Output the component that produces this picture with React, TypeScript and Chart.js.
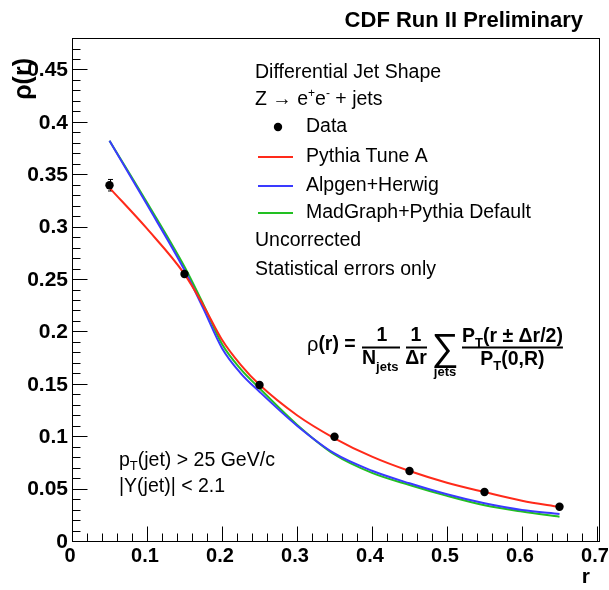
import React, { useEffect, useRef } from "react";
import { Chart, registerables } from "chart.js";

Chart.register(...registerables);

// ---------- data ----------
const rValues = [0.05, 0.15, 0.25, 0.35, 0.45, 0.55, 0.65];
const dataRho = [0.3405, 0.2557, 0.1498, 0.1005, 0.0677, 0.0477, 0.0337];
const dataErr = [0.0055, 0.002, 0.0012, 0.0008, 0.0006, 0.0005, 0.0004];

const curveR = [0.05, 0.1, 0.15, 0.175, 0.2, 0.225, 0.25, 0.3, 0.35, 0.4, 0.45, 0.5, 0.55, 0.6, 0.65];
const pythiaTuneA = [0.338, 0.299, 0.2557, 0.226, 0.193, 0.169, 0.15, 0.121, 0.099, 0.0814, 0.0677, 0.0566, 0.0477, 0.0394, 0.0334];
const alpgenHerwig = [0.383, 0.322, 0.2595, 0.223, 0.185, 0.161, 0.1434, 0.111, 0.0845, 0.068, 0.056, 0.0455, 0.0369, 0.0305, 0.0267];
const madgraphPythia = [0.383, 0.324, 0.2627, 0.227, 0.189, 0.165, 0.1467, 0.112, 0.0835, 0.066, 0.0544, 0.044, 0.035, 0.029, 0.0242];

const xTickValues = [0, 0.1, 0.2, 0.3, 0.4, 0.5, 0.6, 0.7];
const yTickValues = [0, 0.05, 0.1, 0.15, 0.2, 0.25, 0.3, 0.35, 0.4, 0.45];

const xMin = 0;
const xMax = 0.704;
const yMin = 0;
const yMax = 0.481;

const RED = "#ff2a1a";
const BLUE = "#3a3aff";
const GREEN = "#22c022";
const FAM = '"Liberation Sans", Arial, Helvetica, sans-serif';

type Seg = { t: string; f: string; dy?: number };

function drawSegs(ctx: CanvasRenderingContext2D, x: number, y: number, segs: Seg[]) {
  let cx = x;
  for (const s of segs) {
    ctx.font = s.f;
    ctx.fillText(s.t, cx, y + (s.dy || 0));
    cx += ctx.measureText(s.t).width;
  }
  return cx;
}
function segsWidth(ctx: CanvasRenderingContext2D, segs: Seg[]) {
  let w = 0;
  for (const s of segs) {
    ctx.font = s.f;
    w += ctx.measureText(s.t).width;
  }
  return w;
}

const toXY = (xs: number[], ys: number[]) => xs.map((x, i) => ({ x, y: ys[i] }));

const errorBarPlugin = {
  id: "errorBars",
  beforeDatasetsDraw(chart: any) {
    const ctx = chart.ctx as CanvasRenderingContext2D;
    const xs = chart.scales.x;
    const ys = chart.scales.y;
    ctx.save();
    ctx.strokeStyle = "#000";
    ctx.lineWidth = 1;
    rValues.forEach((r, i) => {
      const px = Math.round(xs.getPixelForValue(r)) + 0.5;
      const y1 = ys.getPixelForValue(dataRho[i] - dataErr[i]);
      const y2 = ys.getPixelForValue(dataRho[i] + dataErr[i]);
      ctx.beginPath();
      ctx.moveTo(px, y1);
      ctx.lineTo(px, y2);
      ctx.moveTo(px - 2.5, y1);
      ctx.lineTo(px + 2.5, y1);
      ctx.moveTo(px - 2.5, y2);
      ctx.lineTo(px + 2.5, y2);
      ctx.stroke();
    });
    ctx.restore();
  },
};

const decorPlugin = {
  id: "decor",
  afterDraw(chart: any) {
    const ctx = chart.ctx as CanvasRenderingContext2D;
    const xs = chart.scales.x;
    const ys = chart.scales.y;
    const a = chart.chartArea;
    ctx.save();
    // frame
    ctx.strokeStyle = "#000";
    ctx.lineWidth = 1;
    const L = Math.round(a.left) + 0.5;
    const R = Math.round(a.right) - 0.5;
    const T = Math.round(a.top) + 0.5;
    const B = Math.round(a.bottom) - 0.5;
    ctx.strokeRect(L, T, R - L, B - T);
    // y ticks (inside)
    ctx.beginPath();
    for (let i = 0; i <= 48; i++) {
      const v = i / 100;
      if (v > yMax) break;
      const py = Math.round(ys.getPixelForValue(v)) - 0.5;
      const len = i % 5 === 0 ? 15 : 8;
      ctx.moveTo(L, py);
      ctx.lineTo(L + len, py);
    }
    // x ticks (inside)
    for (let i = 0; i <= 35; i++) {
      const v = i * 0.02;
      const px = Math.round(xs.getPixelForValue(v)) + 0.5;
      const len = i % 5 === 0 ? 15 : 8;
      ctx.moveTo(px, B);
      ctx.lineTo(px, B - len);
    }
    ctx.stroke();

    ctx.fillStyle = "#000";

    // header
    ctx.textAlign = "right";
    ctx.textBaseline = "alphabetic";
    ctx.font = `bold 22px ${FAM}`;
    ctx.fillText("CDF Run II Preliminary", 583, 27);

    // axis titles
    ctx.font = `bold 21px ${FAM}`;
    ctx.textBaseline = "middle";
    ctx.fillText("r", 590, 577);
    ctx.save();
    ctx.translate(24, 58);
    ctx.rotate(-Math.PI / 2);
    ctx.textAlign = "right";
    ctx.font = `bold 25px ${FAM}`;
    ctx.fillText("ρ(r)", 0, 0);
    ctx.restore();

    // legend block
    ctx.textAlign = "left";
    ctx.textBaseline = "middle";
    const LF = `19.5px ${FAM}`;
    const SF = `12px ${FAM}`;
    ctx.font = LF;
    ctx.fillText("Differential Jet Shape", 255, 73);
    drawSegs(ctx, 255, 100, [
      { t: "Z → e", f: LF },
      { t: "+", f: SF, dy: -6 },
      { t: "e", f: LF },
      { t: "-", f: SF, dy: -6 },
      { t: " + jets", f: LF },
    ]);
    ctx.beginPath();
    ctx.arc(278, 127, 4.2, 0, Math.PI * 2);
    ctx.fill();
    ctx.font = LF;
    ctx.fillText("Data", 306, 127);
    const entries: [string, string, number][] = [
      ["Pythia Tune A", RED, 157],
      ["Alpgen+Herwig", BLUE, 186],
      ["MadGraph+Pythia Default", GREEN, 213],
    ];
    for (const [label, col, y] of entries) {
      ctx.strokeStyle = col;
      ctx.lineWidth = 2;
      ctx.beginPath();
      ctx.moveTo(258, y);
      ctx.lineTo(293, y);
      ctx.stroke();
      ctx.fillText(label, 306, y);
    }
    ctx.fillText("Uncorrected", 255, 241);
    ctx.fillText("Statistical errors only", 255, 270);

    // cuts
    drawSegs(ctx, 119, 461, [
      { t: "p", f: LF },
      { t: "T", f: `13px ${FAM}`, dy: 5 },
      { t: "(jet) > 25 GeV/c", f: LF },
    ]);
    ctx.font = LF;
    ctx.fillText("|Y(jet)| < 2.1", 119, 487);

    // formula
    const BF = `bold 19.5px ${FAM}`;
    const BS = `bold 13px ${FAM}`;
    ctx.strokeStyle = "#000";
    ctx.lineWidth = 2;
    drawSegs(ctx, 307, 345, [
      { t: "ρ", f: `20px ${FAM}` },
      { t: "(r) =", f: BF },
    ]);
    // 1/N_jets
    ctx.textAlign = "center";
    ctx.font = BF;
    ctx.fillText("1", 382, 336);
    ctx.beginPath();
    ctx.moveTo(362, 347.5);
    ctx.lineTo(400, 347.5);
    ctx.stroke();
    ctx.textAlign = "left";
    drawSegs(ctx, 362, 359, [
      { t: "N", f: BF },
      { t: "jets", f: BS, dy: 8 },
    ]);
    // 1/Δr
    ctx.textAlign = "center";
    ctx.font = BF;
    ctx.fillText("1", 416, 336);
    ctx.beginPath();
    ctx.moveTo(406, 347.5);
    ctx.lineTo(427, 347.5);
    ctx.stroke();
    ctx.fillText("Δr", 416, 359);
    // sum
    ctx.font = `38px ${FAM}`;
    ctx.fillText("∑", 445, 350);
    ctx.font = BS;
    ctx.fillText("jets", 445, 372);
    // big fraction
    ctx.textAlign = "left";
    const num: Seg[] = [
      { t: "P", f: BF },
      { t: "T", f: BS, dy: 6 },
      { t: "(r ± Δr/2)", f: BF },
    ];
    const den: Seg[] = [
      { t: "P", f: BF },
      { t: "T", f: BS, dy: 6 },
      { t: "(0,R)", f: BF },
    ];
    const nw = segsWidth(ctx, num);
    const dw = segsWidth(ctx, den);
    const fx = 462;
    drawSegs(ctx, fx, 337, num);
    ctx.beginPath();
    ctx.moveTo(fx, 347.5);
    ctx.lineTo(fx + nw, 347.5);
    ctx.stroke();
    drawSegs(ctx, fx + nw / 2 - dw / 2, 360, den);

    ctx.restore();
  },
};

export default function App() {
  const ref = useRef<HTMLCanvasElement | null>(null);
  useEffect(() => {
    if (!ref.current) return;
    const curve = (label: string, ys: number[], color: string) => ({
      label,
      data: toXY(curveR, ys),
      showLine: true,
      borderColor: color,
      borderWidth: 2,
      pointRadius: 0,
      cubicInterpolationMode: "monotone",
      fill: false,
    });
    const chart = new Chart(ref.current, {
      type: "scatter",
      data: {
        datasets: [
          {
            label: "Data",
            data: toXY(rValues, dataRho),
            showLine: false,
            pointRadius: 4.2,
            pointBackgroundColor: "#000",
            pointBorderColor: "#000",
            pointBorderWidth: 0,
          },
          curve("Pythia Tune A", pythiaTuneA, RED),
          curve("Alpgen+Herwig", alpgenHerwig, BLUE),
          curve("MadGraph+Pythia Default", madgraphPythia, GREEN),
        ],
      },
      options: {
        responsive: false,
        animation: false,
        devicePixelRatio: 1,
        layout: { padding: { top: 38, right: 9, left: 0, bottom: 0 } },
        plugins: { legend: { display: false }, tooltip: { enabled: false } },
        scales: {
          x: {
            type: "linear",
            min: xMin,
            max: xMax,
            grid: { display: false, drawTicks: false, tickLength: 0 },
            border: { display: false },
            afterBuildTicks: (s: any) => {
              s.ticks = xTickValues.map((v) => ({ value: v }));
            },
            ticks: {
              color: "#000",
              padding: 2,
              maxRotation: 0,
              autoSkip: false,
              labelOffset: -2,
              font: { family: FAM, size: 20, weight: "bold" },
              callback: (v: any) => String(+Number(v).toFixed(2)),
            },
            afterFit: (s: any) => {
              s.height = 48;
              s.paddingLeft = 0;
              s.paddingRight = 0;
            },
          },
          y: {
            type: "linear",
            min: yMin,
            max: yMax,
            grid: { display: false, drawTicks: false, tickLength: 0 },
            border: { display: false },
            afterBuildTicks: (s: any) => {
              s.ticks = yTickValues.map((v) => ({ value: v }));
            },
            ticks: {
              color: "#000",
              padding: 4,
              autoSkip: false,
              font: { family: FAM, size: 21, weight: "bold" },
              callback: (v: any) => String(+Number(v).toFixed(2)),
            },
            afterFit: (s: any) => {
              s.width = 72;
              s.paddingTop = 0;
              s.paddingBottom = 0;
            },
          },
        },
      },
      plugins: [errorBarPlugin, decorPlugin],
    } as any);
    return () => chart.destroy();
  }, []);
  return (
    <div style={{ position: "fixed", left: 0, top: 0, width: 609, height: 590, background: "#fff" }}>
      <canvas ref={ref} width={609} height={590} style={{ width: 609, height: 590, display: "block" }} />
    </div>
  );
}
